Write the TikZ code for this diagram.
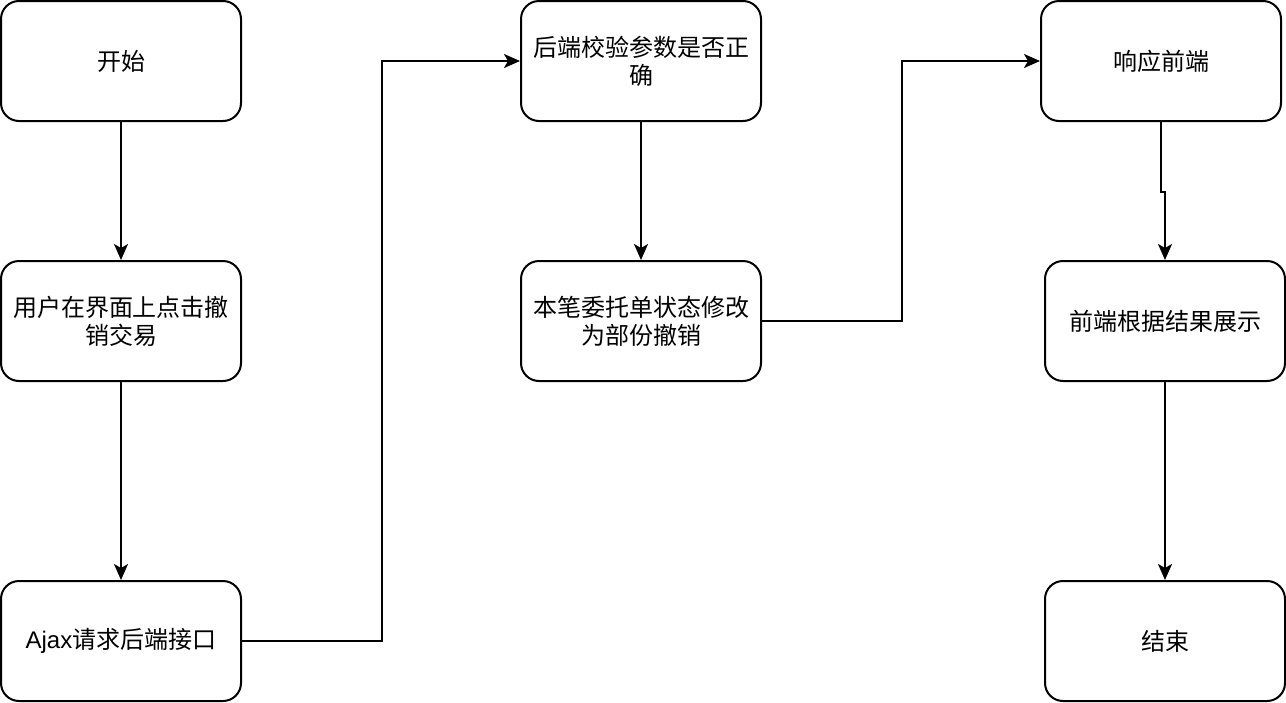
\documentclass[tikz,border=0pt]{standalone}
\usepackage{fontspec}
\setmainfont{Liberation Sans}
\newfontfamily\cjkfont{Noto Sans CJK SC}
\newfontfamily\latinfont{Liberation Sans}
\usetikzlibrary{arrows.meta}
\begin{document}
\begin{tikzpicture}[x=1pt,y=-1pt,
  box/.style={draw=black,line width=2pt,rounded corners=18pt,minimum width=240pt,minimum height=120pt,align=center,inner sep=0pt,font=\cjkfont\fontsize{24}{28}\selectfont},
  conn/.style={draw=black,line width=2pt,-{Stealth[length=16pt,width=14pt,inset=4pt]}}]
\useasboundingbox (0,0) rectangle (1286,702);
\node[box] (kaishi) at (121,61) {开始};
\node[box] (yonghu) at (121,321) {用户在界面上点击撤\\销交易};
\node[box] (ajax) at (121,641) {{\latinfont Ajax}请求后端接口};
\node[box] (houduan) at (641,61) {后端校验参数是否正\\确};
\node[box] (benbi) at (641,321) {本笔委托单状态修改\\为部份撤销};
\node[box] (xiangying) at (1161,61) {响应前端};
\node[box] (qianduan) at (1165,321) {前端根据结果展示};
\node[box] (jieshu) at (1165,641) {结束};
\draw[conn] (kaishi.south) -- (yonghu.north);
\draw[conn] (yonghu.south) -- (ajax.north);
\draw[conn] (ajax.east) -- ++(140,0) |- (houduan.west);
\draw[conn] (houduan.south) -- (benbi.north);
\draw[conn] (benbi.east) -- ++(140,0) |- (xiangying.west);
\draw[conn] (xiangying.south) -- ++(0,70) -| (qianduan.north);
\draw[conn] (qianduan.south) -- (jieshu.north);
\end{tikzpicture}
\end{document}
